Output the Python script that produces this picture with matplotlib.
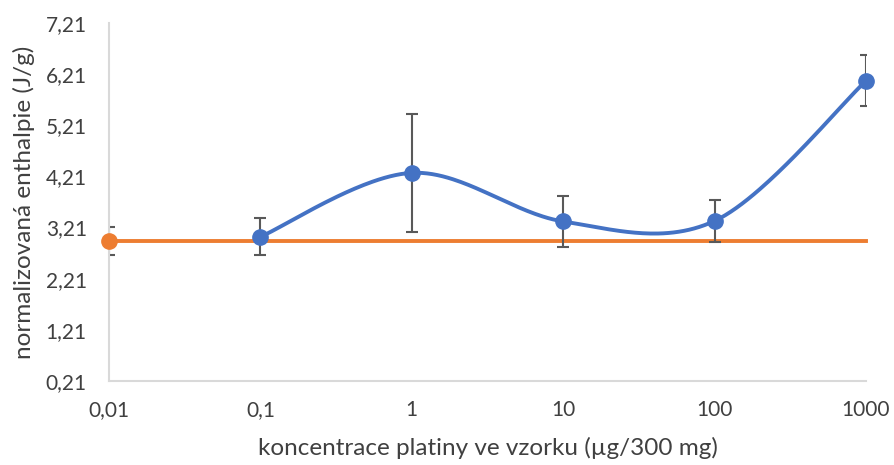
import numpy as np
import matplotlib
matplotlib.use('Agg')
import matplotlib.pyplot as plt
from matplotlib.ticker import FixedLocator, FuncFormatter

# data
conc = [0.1, 1, 10, 100, 1000]
enthalpy = [3.03, 4.28, 3.33, 3.34, 6.08]
enthalpy_err = [0.36, 1.16, 0.50, 0.41, 0.50]

ref_x = [0.01, 1000]
ref_y = [2.95, 2.95]
ref_err = [0.28, 0.0]

x_ticks = [0.01, 0.1, 1, 10, 100, 1000]
x_tick_labels = ['0,01', '0,1', '1', '10', '100', '1000']
y_ticks = [0.21, 1.21, 2.21, 3.21, 4.21, 5.21, 6.21, 7.21]

BLUE = '#4472C4'
ORANGE = '#ED7D31'
GRAY = '#595959'
TXT = '#404040'
SPINE = '#D9D9D9'

plt.rcParams['font.family'] = ['Lato', 'DejaVu Sans']


def excel_smooth(x, y, n=60):
    # excel style smoothed line: bezier with catmull-rom control points in log-x space
    lx = np.log10(x)
    pts = np.column_stack([lx, y])
    out = []
    for i in range(len(pts) - 1):
        p0 = pts[max(i - 1, 0)]
        p1 = pts[i]
        p2 = pts[i + 1]
        p3 = pts[min(i + 2, len(pts) - 1)]
        c1 = p1 + (p2 - p0) / 6
        c2 = p2 - (p3 - p1) / 6
        t = np.linspace(0, 1, n)[:, None]
        seg = ((1 - t) ** 3 * p1 + 3 * (1 - t) ** 2 * t * c1
               + 3 * (1 - t) * t ** 2 * c2 + t ** 3 * p2)
        out.append(seg)
    seg = np.vstack(out)
    return 10 ** seg[:, 0], seg[:, 1]


fig = plt.figure(figsize=(8.95, 4.65), dpi=100)
ax = fig.add_axes([0.1218, 0.1806, 0.8458, 0.7699])

# orange reference line with marker only at first point
ax.errorbar(ref_x[:1], ref_y[:1], yerr=ref_err[:1], fmt='none', ecolor=GRAY,
            elinewidth=1.5, capsize=4.5, capthick=1.5, zorder=2)
ax.plot(ref_x, ref_y, color=ORANGE, lw=2.8, marker='o', ms=11,
        markevery=[0], zorder=3, clip_on=False)

# blue series
sx, sy = excel_smooth(conc, enthalpy)
ax.errorbar(conc, enthalpy, yerr=enthalpy_err, fmt='none', ecolor=GRAY,
            elinewidth=1.5, capsize=4.5, capthick=1.5, zorder=4)
ax.plot(sx, sy, color=BLUE, lw=2.8, zorder=5, solid_capstyle='round')
ax.plot(conc, enthalpy, 'o', color=BLUE, ms=11, zorder=6, clip_on=False)

ax.set_xscale('log')
ax.set_xlim(0.01, 1000)
ax.set_ylim(0.21, 7.21)
ax.xaxis.set_major_locator(FixedLocator(x_ticks))
ax.xaxis.set_minor_locator(FixedLocator([]))
ax.set_xticklabels(x_tick_labels)
ax.set_yticks(y_ticks)
ax.yaxis.set_major_formatter(FuncFormatter(lambda v, p: f'{v:.2f}'.replace('.', ',')))
ax.tick_params(axis='y', length=0, labelsize=15, colors=TXT, pad=16)
ax.tick_params(axis='x', length=0, labelsize=15, colors=TXT, pad=14)

for s in ('top', 'right'):
    ax.spines[s].set_visible(False)
for s in ('left', 'bottom'):
    ax.spines[s].set_color(SPINE)
    ax.spines[s].set_linewidth(1.5)

ax.set_xlabel('koncentrace platiny ve vzorku (µg/300 mg)', fontsize=17.5, color=TXT,
              va='center')
ax.xaxis.set_label_coords(0.5, -0.187)
ax.set_ylabel('normalizovaná enthalpie (J/g)', fontsize=17.5, color=TXT,
              va='center', ha='center')
ax.yaxis.set_label_coords(-0.112, 0.5)

fig.savefig('out.png', dpi=100, facecolor='white')
